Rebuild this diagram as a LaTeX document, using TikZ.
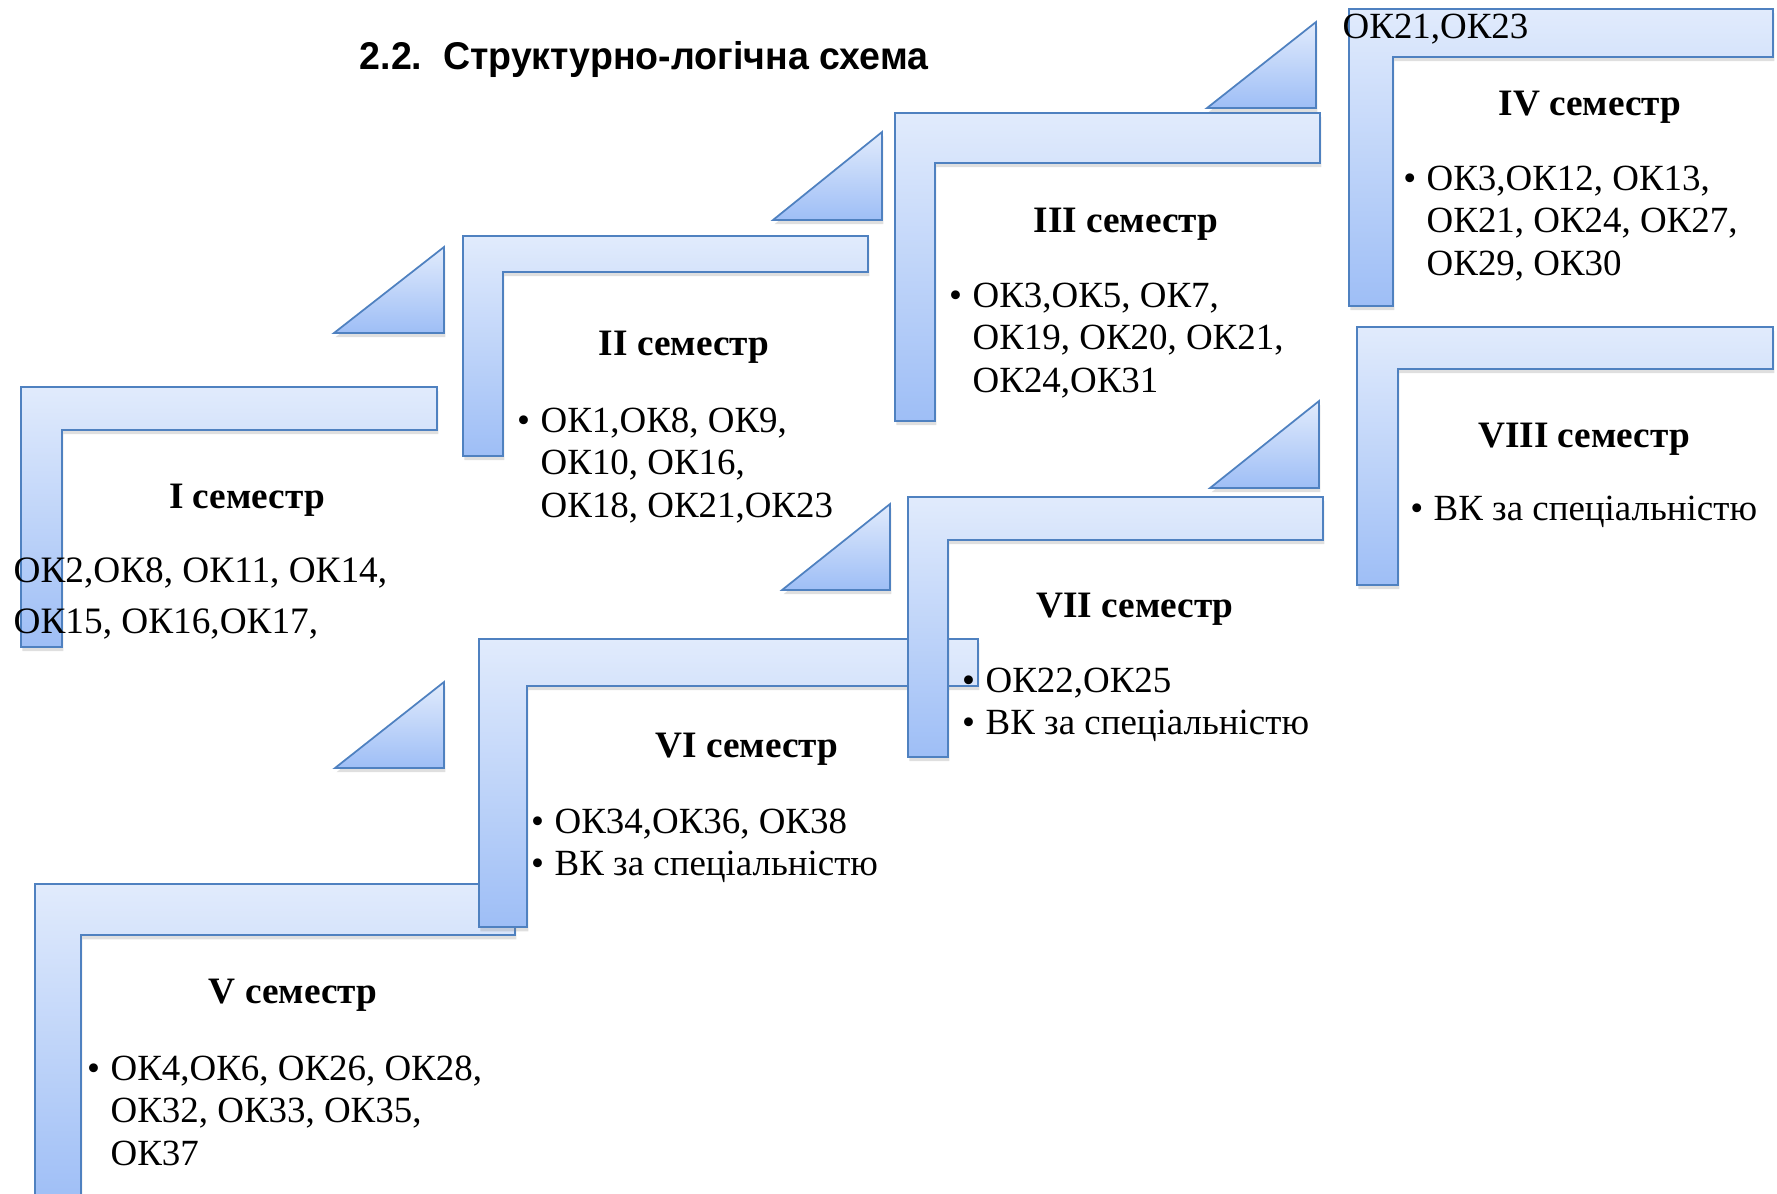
\documentclass[tikz,border=0pt]{standalone}
\usepackage{fontspec}
\setmainfont{Liberation Serif}
\newfontfamily\titlefont[FakeStretch=0.97]{Liberation Sans}
\usetikzlibrary{shadows}

\definecolor{stairtop}{RGB}{225,235,252}
\definecolor{stairbot}{RGB}{158,190,246}
\definecolor{stairline}{RGB}{79,129,192}

\tikzset{
  stair/.style={draw=stairline, line width=0.5pt, top color=stairtop, bottom color=stairbot,
    drop shadow={shadow xshift=0.4pt, shadow yshift=-1.2pt, opacity=0.25}},
  head/.style={font=\fontsize{10.6}{12.7}\selectfont\bfseries, anchor=base, inner sep=0pt},
  body/.style={font=\fontsize{10.5}{12.1}\selectfont, align=left, anchor=north west, inner sep=0pt},
}
\newcommand{\bul}{\llap{\textbullet\hspace{3pt}}}

\begin{document}
\begin{tikzpicture}[x=0.01cm, y=-0.01cm]
    \useasboundingbox (0,0) rectangle (1777,1193);
    % upper row: I - IV
    \draw[stair] (21,387) -- (437,387) -- (437,430) -- (62,430) -- (62,647) -- (21,647) -- cycle;
    \draw[stair] (334,333) -- (444,333) -- (444,247) -- cycle;
    \draw[stair] (463,236) -- (868,236) -- (868,272) -- (503,272) -- (503,456) -- (463,456) -- cycle;
    \draw[stair] (773,220) -- (882,220) -- (882,132) -- cycle;
    \draw[stair] (895,113) -- (1320,113) -- (1320,163) -- (935,163) -- (935,421) -- (895,421) -- cycle;
    \draw[stair] (1207,108) -- (1316,108) -- (1316,22) -- cycle;
    \draw[stair] (1349,9) -- (1773,9) -- (1773,57) -- (1393,57) -- (1393,306) -- (1349,306) -- cycle;
    % lower row: V - VIII
    \draw[stair] (35,884) -- (515,884) -- (515,935) -- (81,935) -- (81,1205) -- (35,1205) -- cycle;
    \draw[stair] (335,768) -- (444,768) -- (444,682) -- cycle;
    \draw[stair] (479,639) -- (978,639) -- (978,686) -- (527,686) -- (527,927) -- (479,927) -- cycle;
    \draw[stair] (782,590) -- (890,590) -- (890,504) -- cycle;
    \draw[stair] (908,497) -- (1323,497) -- (1323,540) -- (948,540) -- (948,757) -- (908,757) -- cycle;
    \draw[stair] (1210,488) -- (1319,488) -- (1319,401) -- cycle;
    \draw[stair] (1357,327) -- (1773,327) -- (1773,369) -- (1398,369) -- (1398,585) -- (1357,585) -- cycle;

    \node[anchor=base west, inner sep=0pt, font=\titlefont\fontsize{11}{13}\selectfont\bfseries] (title) at (359,69) {2.2.\ \ Структурно-логічна схема};

    \node[head] (s1) at (247,508) {I семестр};
    \node[head] (s2) at (684,355) {II семестр};
    \node[head] (s3) at (1126,232) {III семестр};
    \node[head] (s4) at (1590,115) {IV семестр};
    \node[head] (s5) at (293,1003) {V семестр};
    \node[head] (s6) at (747,757) {VI семестр};
    \node[head] (s7) at (1135,617) {VII семестр};
    \node[head] (s8) at (1584,447) {VIII семестр};

    \node[body, font=\fontsize{10.6}{14.5}\selectfont] (b1) at (13,557) {ОК2,ОК8, ОК11, ОК14,\\ОК15, ОК16,ОК17,};
    \node[body] (b2) at (540,407) {\bul ОК1,ОК8, ОК9,\\ОК10, ОК16,\\ОК18, ОК21,ОК23};
    \node[body] (b3) at (972,282) {\bul ОК3,ОК5, ОК7,\\ОК19, ОК20, ОК21,\\ОК24,ОК31};
    \node[body] (b4a) at (1342,13) {ОК21,ОК23};
    \node[body] (b4) at (1426,165) {\bul ОК3,ОК12, ОК13,\\ОК21, ОК24, ОК27,\\ОК29, ОК30};
    \node[body] (b5) at (110,1055) {\bul ОК4,ОК6, ОК26, ОК28,\\ОК32, ОК33, ОК35,\\ОК37};
    \node[body] (b6) at (554,808) {\bul ОК34,ОК36, ОК38\\\bul ВК за спеціальністю};
    \node[body] (b7) at (985,667) {\bul ОК22,ОК25\\\bul ВК за спеціальністю};
    \node[body] (b8) at (1433,495) {\bul ВК за спеціальністю};
\end{tikzpicture}
\end{document}
